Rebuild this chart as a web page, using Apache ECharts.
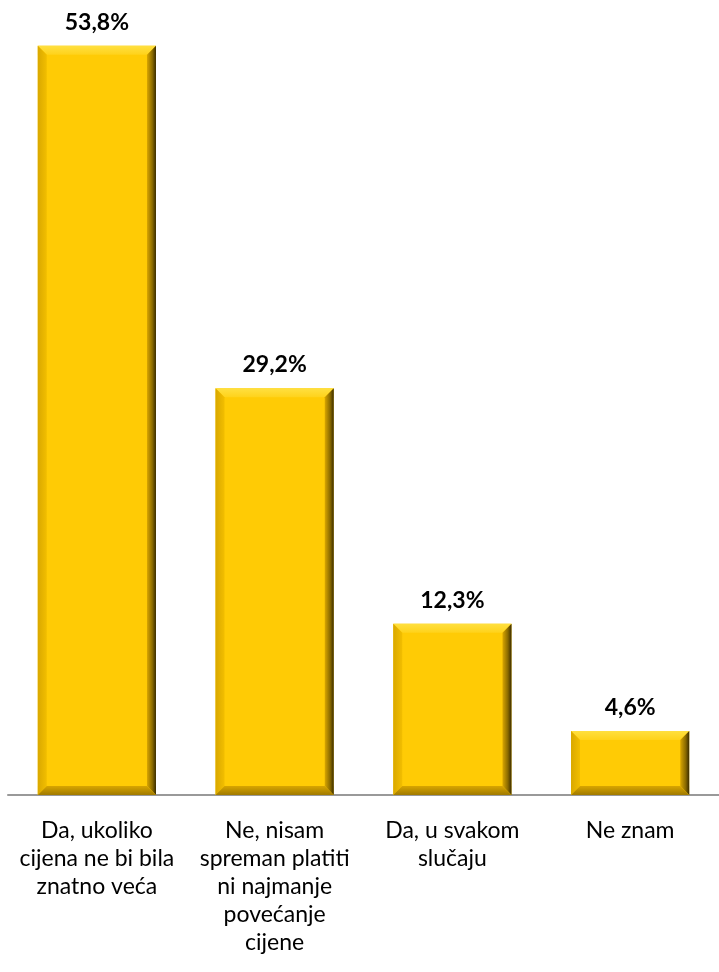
<!DOCTYPE html>
<html lang="hr">
<head>
    <meta charset="UTF-8">
    <title>chart</title>
    <script src="https://cdn.jsdelivr.net/npm/echarts@6/dist/echarts.min.js"></script>
    <style>
        html, body { margin: 0; padding: 0; background: #fff; }
    </style>
</head>
<body>
<div id="echart" style="width:719px;height:972px;"></div>
<script>
    var categories = [
        'Da, ukoliko\ncijena ne bi bila\nznatno veća',
        'Ne, nisam\nspreman platiti\nni najmanje\npovećanje\ncijene',
        'Da, u svakom\nslučaju',
        'Ne znam'
    ];
    var values = [53.8, 29.2, 12.3, 4.6];

    var mychart = echarts.init(document.getElementById('echart'));

    // bar with bevelled edges
    function bevelBar(params, api) {
        var v = api.value(1);
        var top = api.coord([api.value(0), v]);
        var base = api.coord([api.value(0), 0]);
        var w = api.size([1, 0])[0] * 0.665;
        var x0 = top[0] - w / 2, x1 = top[0] + w / 2;
        var y0 = top[1], y1 = base[1];
        var b = 9;
        return {
            type: 'group',
            children: [
                { type: 'rect', shape: { x: x0, y: y0, width: w, height: y1 - y0 },
                  style: { fill: '#FFCB05' } },
                // top facet
                { type: 'polygon', shape: { points: [[x0, y0], [x1, y0], [x1 - b, y0 + b], [x0 + b, y0 + b]] },
                  style: { fill: new echarts.graphic.LinearGradient(0, 0, 0, 1, [
                      { offset: 0, color: '#FFE040' }, { offset: 1, color: '#FFD21A' }]) } },
                // left facet
                { type: 'polygon', shape: { points: [[x0, y0], [x0 + b, y0 + b], [x0 + b, y1 - b], [x0, y1]] },
                  style: { fill: new echarts.graphic.LinearGradient(0, 0, 1, 0, [
                      { offset: 0, color: '#D9A800' }, { offset: 1, color: '#F2BE00' }]) } },
                // right facet
                { type: 'polygon', shape: { points: [[x1, y0], [x1, y1], [x1 - b, y1 - b], [x1 - b, y0 + b]] },
                  style: { fill: new echarts.graphic.LinearGradient(0, 0, 1, 0, [
                      { offset: 0, color: '#D9A600' }, { offset: 0.6, color: '#8A6A00' }, { offset: 1, color: '#3A2C00' }]) } },
                // bottom facet
                { type: 'polygon', shape: { points: [[x0, y1], [x0 + b, y1 - b], [x1 - b, y1 - b], [x1, y1]] },
                  style: { fill: new echarts.graphic.LinearGradient(0, 0, 0, 1, [
                      { offset: 0, color: '#D8A500' }, { offset: 1, color: '#A07A00' }]) } },
                { type: 'text', style: {
                    text: v.toFixed(1).replace('.', ',') + '%',
                    x: top[0], y: y0 - 12, align: 'center', verticalAlign: 'bottom',
                    fill: '#000', font: 'bold 23px Lato, sans-serif' } }
            ]
        };
    }

    var option = {
        animation: false,
        grid: { left: 8, right: 0, top: 43, bottom: 177 },
        xAxis: {
            type: 'category',
            data: categories,
            axisTick: { show: false },
            axisLine: { lineStyle: { color: '#999999', width: 2 } },
            axisLabel: {
                interval: 0, margin: 22, color: '#000',
                fontFamily: 'Lato, sans-serif', fontSize: 23, lineHeight: 28
            }
        },
        yAxis: { type: 'value', min: 0, max: 54, show: false, splitLine: { show: false } },
        series: [{
            type: 'custom',
            renderItem: bevelBar,
            data: values.map(function (v, i) { return [i, v]; })
        }]
    };

    mychart.setOption(option, true);
</script>
</body>
</html>
